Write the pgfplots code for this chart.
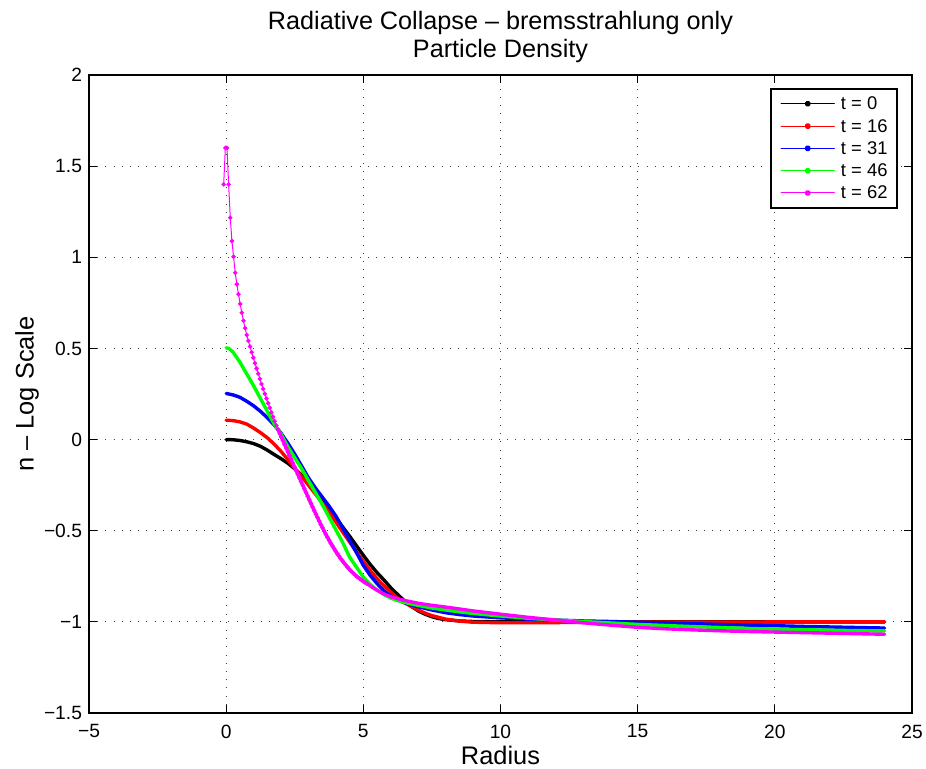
\documentclass[border=0pt]{standalone}
\usepackage{fontspec}
\setmainfont{Liberation Sans}
\usepackage{pgfplots}
\pgfplotsset{compat=1.18}
\usepackage{pgfplotstable}
\definecolor{mblack}{rgb}{0,0,0}
\definecolor{mred}{rgb}{1,0,0}
\definecolor{mblue}{rgb}{0,0,1}
\definecolor{mgreen}{rgb}{0,1,0}
\definecolor{mmag}{rgb}{1,0,1}

\pgfplotstableread{
x y
0 0.000
0.25 -0.001
0.5 -0.005
0.75 -0.012
1 -0.022
1.25 -0.037
1.5 -0.058
1.75 -0.082
2 -0.105
2.25 -0.130
2.5 -0.160
2.75 -0.195
3 -0.235
3.25 -0.280
3.5 -0.330
3.75 -0.380
4 -0.430
4.25 -0.480
4.5 -0.530
4.75 -0.583
5 -0.635
5.25 -0.685
5.5 -0.730
5.75 -0.770
6 -0.813
6.25 -0.850
6.5 -0.885
6.75 -0.915
7 -0.940
7.25 -0.958
7.5 -0.972
7.75 -0.982
8 -0.988
8.5 -0.995
9 -0.998
10 -1.000
12 -1.000
24 -1.000
}\blackdata

\pgfplotstableread{
x y
0 0.106
0.25 0.104
0.5 0.097
0.75 0.085
1 0.063
1.25 0.038
1.5 0.010
1.75 -0.025
2 -0.065
2.25 -0.110
2.5 -0.157
2.75 -0.203
3 -0.250
3.25 -0.298
3.5 -0.346
3.75 -0.396
4 -0.452
4.25 -0.508
4.5 -0.562
4.75 -0.616
5 -0.668
5.25 -0.718
5.5 -0.763
5.75 -0.802
6 -0.838
6.25 -0.870
6.5 -0.895
6.75 -0.916
7 -0.935
7.25 -0.952
7.5 -0.966
8 -0.985
8.5 -0.996
9 -1.002
10 -1.005
11 -1.005
12 -1.004
14 -1.002
16 -1.001
24 -1.000
}\reddata

\pgfplotstableread{
x y
0 0.253
0.25 0.245
0.5 0.232
0.75 0.210
1 0.185
1.25 0.155
1.5 0.120
1.75 0.080
2 0.035
2.25 -0.020
2.5 -0.080
2.75 -0.145
3 -0.210
3.25 -0.265
3.5 -0.315
3.75 -0.365
4 -0.420
4.25 -0.485
4.5 -0.553
4.75 -0.620
5 -0.690
5.25 -0.745
5.5 -0.790
5.75 -0.830
6 -0.860
6.25 -0.880
6.5 -0.895
6.75 -0.907
7 -0.917
7.5 -0.935
8 -0.950
8.5 -0.960
9 -0.968
10 -0.978
11 -0.985
12 -0.990
13 -0.995
14 -0.998
15 -1.002
16 -1.006
17 -1.010
18 -1.014
19 -1.018
20 -1.021
21 -1.025
22 -1.028
23 -1.031
24 -1.034
}\bluedata

\pgfplotstableread{
x y
0 0.503
0.1 0.500
0.25 0.480
0.5 0.425
0.75 0.360
1 0.295
1.25 0.225
1.5 0.155
1.75 0.085
2 0.030
2.25 -0.040
2.5 -0.100
2.75 -0.160
3 -0.225
3.25 -0.290
3.5 -0.355
3.75 -0.425
4 -0.495
4.25 -0.565
4.5 -0.645
4.75 -0.700
5 -0.755
5.25 -0.795
5.5 -0.825
5.75 -0.850
6 -0.870
6.25 -0.883
6.5 -0.893
6.75 -0.902
7 -0.910
7.5 -0.924
8 -0.935
8.5 -0.945
9 -0.954
10 -0.968
11 -0.980
12 -0.990
13 -0.998
14 -1.006
15 -1.014
16 -1.020
17 -1.026
18 -1.031
19 -1.036
20 -1.040
21 -1.043
22 -1.046
23 -1.048
24 -1.050
}\greendata

% magenta: dense steep part (drawn with dots)
\pgfplotstableread{
x y
-0.09 1.400
-0.03 1.600
0.03 1.600
0.09 1.400
0.15 1.217
0.21 1.089
0.27 1.003
0.33 0.915
0.39 0.852
0.45 0.797
0.51 0.744
0.57 0.696
0.63 0.652
0.69 0.611
0.75 0.574
0.81 0.541
0.87 0.510
0.93 0.479
0.99 0.449
1.05 0.419
1.11 0.390
1.17 0.361
1.23 0.333
1.29 0.305
1.35 0.278
1.41 0.251
1.47 0.225
1.53 0.199
1.59 0.174
1.65 0.149
1.71 0.125
1.77 0.101
1.83 0.078
1.89 0.055
1.95 0.035
2.01 0.014
2.07 -0.006
2.13 -0.027
2.19 -0.047
2.25 -0.068
2.31 -0.088
2.37 -0.108
2.43 -0.129
2.49 -0.149
2.55 -0.170
2.61 -0.190
2.67 -0.210
2.73 -0.230
2.79 -0.250
2.85 -0.270
2.91 -0.290
2.97 -0.310
3.03 -0.330
3.09 -0.350
3.15 -0.370
3.21 -0.390
3.27 -0.409
3.33 -0.428
3.39 -0.447
3.45 -0.466
3.51 -0.484
3.57 -0.502
3.63 -0.519
3.69 -0.536
3.75 -0.552
3.81 -0.568
3.87 -0.583
3.93 -0.598
3.99 -0.612
4.05 -0.626
4.11 -0.639
4.17 -0.652
4.23 -0.664
4.29 -0.676
4.35 -0.687
4.41 -0.698
4.47 -0.708
4.53 -0.718
4.59 -0.727
4.65 -0.736
4.71 -0.744
4.77 -0.752
4.83 -0.759
4.89 -0.766
4.95 -0.773
5.01 -0.779
5.07 -0.785
5.13 -0.790
}\magentadense

% magenta: smooth part (drawn thick)
\pgfplotstableread{
x y
1.89 0.055
2.13 -0.027
2.37 -0.108
2.61 -0.190
2.85 -0.270
3.09 -0.350
3.33 -0.428
3.57 -0.502
3.81 -0.568
4.05 -0.626
4.29 -0.676
4.53 -0.718
4.77 -0.752
5.01 -0.779
5.13 -0.790
5.4 -0.818
5.73 -0.846
6.0 -0.862
6.34 -0.877
6.7 -0.889
7.0 -0.898
7.43 -0.908
8.16 -0.922
9 -0.940
10 -0.958
11 -0.975
12 -0.990
13 -1.005
14 -1.018
15 -1.030
16 -1.038
17 -1.044
18 -1.049
19 -1.053
20 -1.056
21 -1.059
22 -1.062
23 -1.065
24 -1.068
}\magentatail

\begin{document}
\begin{tikzpicture}
\path[use as bounding box] (-44.5pt,-28pt) rectangle (418.5pt,356.5pt);
\begin{axis}[
  name=ax, at={(0,0)}, anchor=south west,
  scale only axis, width=411.5pt, height=319pt,
  xmin=-5, xmax=25, ymin=-1.5, ymax=2,
  xtick={-5,0,5,10,15,20,25}, xticklabels={−5,0,5,10,15,20,25},
  ytick={-1.5,-1,-0.5,0,0.5,1,1.5,2}, yticklabels={−1.5,−1,−0.5,0,0.5,1,1.5,2},
  tick align=inside, major tick length=4pt,
  tick style={black, line width=0.5pt},
  axis line style={line width=0.8pt},
  grid=major,
  grid style={black!75, line width=0.5pt, dash pattern=on 0.5pt off 3.6pt},
  ticklabel style={font=\fontsize{9.6}{11}\selectfont},
  xticklabel style={yshift=-2.3pt},
  xlabel={Radius}, ylabel={n – Log Scale},
  label style={font=\fontsize{12.7}{14}\selectfont},
  xlabel style={at={(axis description cs:0.5,-0.0815)}, anchor=base},
  ylabel style={at={(axis description cs:-0.0753,0.5)}, anchor=center},
  legend cell align=left,
  legend style={at={(axis description cs:1,1)}, anchor=north east,
    xshift=-7pt, yshift=-6.5pt, draw=black, line width=0.8pt,
    font=\fontsize{9.2}{10}\selectfont,
    inner xsep=4.85pt, inner ysep=3.5pt, row sep=3.15pt,
    nodes={inner sep=0pt, text height=7pt, text depth=1pt},
    /tikz/every odd column/.append style={column sep=3pt}},
  legend image code/.code={
    \draw[#1, line width=0.5pt] (0pt,0pt) -- (26.7pt,0pt);
    \fill[#1] (13.35pt,0pt) circle (0.75pt);},
]
\addplot[mblack, line width=1.7pt, line cap=round, line join=round] table {\blackdata};
\addlegendentry{t = 0}
\addplot[mred, line width=1.7pt, line cap=round, line join=round] table {\reddata};
\addlegendentry{t = 16}
\addplot[mblue, line width=1.7pt, line cap=round, line join=round] table {\bluedata};
\addlegendentry{t = 31}
\addplot[mgreen, line width=1.7pt, line cap=round, line join=round] table {\greendata};
\addlegendentry{t = 46}
\addplot[mmag, line width=1.7pt, line cap=round, line join=round] table {\magentatail};
\addlegendentry{t = 62}
\addplot[mmag, line width=0.5pt, mark=*, mark size=0.85pt, mark options={draw=none}, forget plot] table {\magentadense};
\end{axis}
\node[anchor=base, font=\fontsize{12.6}{14}\selectfont] at ([yshift=22.5pt]ax.north) {Radiative Collapse – bremsstrahlung only};
\node[anchor=base, font=\fontsize{12.6}{14}\selectfont] at ([yshift=8.5pt]ax.north) {Particle Density};
\end{tikzpicture}
\end{document}
